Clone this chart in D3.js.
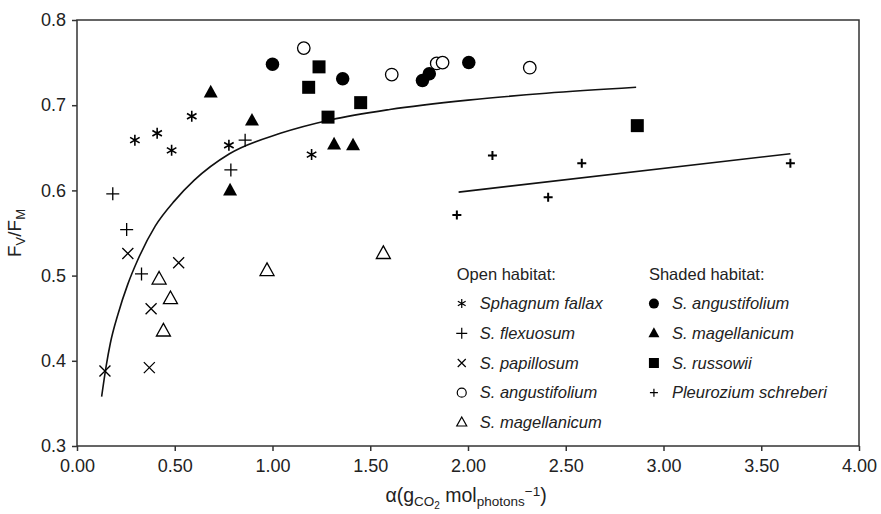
<!DOCTYPE html>
<html>
<head>
<meta charset="utf-8">
<script src="https://cdn.jsdelivr.net/npm/d3@7"></script>
<style>
  body { margin: 0; background: #fff; }
  svg { display: block; }
  svg text { font-family: "Liberation Sans", Arial, sans-serif; fill: #222; }
  .axis path, .axis line { stroke: #333; stroke-width: 1.5; }
  .axis text { font-size: 18px; }
  .legend text { font-size: 16.5px; }
</style>
</head>
<body>
<div class="chart"></div>
<script>
const width = 881;
const height = 514;

// open habitat
const fallax = [[0.296, 0.659], [0.41, 0.667], [0.484, 0.647], [0.587, 0.687], [0.777, 0.653], [1.20, 0.642]];
const flexuosum = [[0.183, 0.596], [0.254, 0.554], [0.33, 0.502], [0.787, 0.624], [0.86, 0.659]];
const papillosum = [[0.26, 0.526], [0.52, 0.515], [0.379, 0.461], [0.37, 0.392], [0.143, 0.388]];
const angustOpen = [[1.16, 0.767], [1.61, 0.736], [1.84, 0.749], [1.87, 0.750], [2.316, 0.744]];
const magellOpen = [[0.42, 0.496], [0.478, 0.473], [0.442, 0.435], [0.972, 0.506], [1.567, 0.526]];

// shaded habitat
const angustShade = [[1.0, 0.748], [1.359, 0.731], [1.767, 0.729], [1.802, 0.737], [2.004, 0.750]];
const magellShade = [[0.684, 0.715], [0.895, 0.682], [0.783, 0.600], [1.315, 0.654], [1.412, 0.653]];
const russowii = [[1.238, 0.745], [1.185, 0.721], [1.451, 0.703], [1.284, 0.686], [2.866, 0.676]];
const pleurozium = [[1.943, 0.571], [2.125, 0.641], [2.41, 0.592], [2.582, 0.632], [3.649, 0.632]];

// fitted lines
const sphagnumFit = [[0.126, 0.358], [0.15, 0.395], [0.17, 0.42], [0.21, 0.455], [0.26, 0.49], [0.31, 0.518],
  [0.40, 0.558], [0.50, 0.588], [0.60, 0.612], [0.78, 0.643], [1.04, 0.667], [1.3, 0.683], [1.6, 0.695],
  [2.0, 0.706], [2.4, 0.714], [2.86, 0.721]];
const pleuroziumFit = [[1.952, 0.598], [3.649, 0.643]];

const xTicks = [0, 0.5, 1, 1.5, 2, 2.5, 3, 3.5, 4];
const yTicks = [0.3, 0.4, 0.5, 0.6, 0.7, 0.8];

const margin = { top: 20, right: 22, bottom: 68, left: 77 };
const innerWidth = width - margin.left - margin.right;
const innerHeight = height - margin.top - margin.bottom;

const x = d3.scaleLinear().domain([0, 4]).range([0, innerWidth]);
const y = d3.scaleLinear().domain([0.3, 0.8]).range([innerHeight, 0]);

const svg = d3.select(".chart")
  .append("svg")
  .attr("width", width)
  .attr("height", height)
  .append("g")
  .attr("transform", `translate(${margin.left},${margin.top})`);

// frame
svg.append("rect")
  .attr("width", innerWidth)
  .attr("height", innerHeight)
  .attr("fill", "none")
  .attr("stroke", "#333")
  .attr("stroke-width", 1.5);

svg.append("g")
  .attr("class", "axis")
  .attr("transform", `translate(0,${innerHeight})`)
  .call(d3.axisBottom(x).tickValues(xTicks).tickFormat(d3.format(".2f")).tickSize(5).tickPadding(8))
  .call(g => g.select(".domain").remove());

svg.append("g")
  .attr("class", "axis")
  .call(d3.axisLeft(y).tickValues(yTicks).tickFormat(d3.format(".1f")).tickSize(5).tickPadding(6))
  .call(g => g.select(".domain").remove());

// axis titles
const yLabel = svg.append("text")
  .attr("transform", `translate(${-56},${innerHeight / 2}) rotate(-90)`)
  .attr("text-anchor", "middle")
  .style("font-size", "19px");
yLabel.append("tspan").text("F");
yLabel.append("tspan").attr("dy", 4).style("font-size", "13px").text("V");
yLabel.append("tspan").attr("dy", -4).text("/F");
yLabel.append("tspan").attr("dy", 4).style("font-size", "13px").text("M");

const xLabel = svg.append("text")
  .attr("x", x(1.99))
  .attr("y", innerHeight + 56)
  .attr("text-anchor", "middle")
  .style("font-size", "19.5px");
xLabel.append("tspan").text("\u03b1(g");
xLabel.append("tspan").attr("dy", 4).style("font-size", "13.5px").text("CO");
xLabel.append("tspan").attr("dy", 3).style("font-size", "10px").text("2");
xLabel.append("tspan").attr("dy", -7).text(" mol");
xLabel.append("tspan").attr("dy", 4).style("font-size", "13.5px").text("photons");
xLabel.append("tspan").attr("dy", -10).style("font-size", "13.5px").text("\u22121");
xLabel.append("tspan").attr("dy", 6).text(")");

// lines
const line = d3.line().x(d => x(d[0])).y(d => y(d[1])).curve(d3.curveMonotoneX);
[sphagnumFit, pleuroziumFit].forEach(l => {
  svg.append("path")
    .attr("d", line(l))
    .attr("fill", "none")
    .attr("stroke", "#111")
    .attr("stroke-width", 1.6);
});

// marker shapes
const asterisk = s => {
  const r = s / 2, c = r * Math.cos(Math.PI / 6), h = r * Math.sin(Math.PI / 6);
  return `M0,${-r}L0,${r}M${-c},${-h}L${c},${h}M${-c},${h}L${c},${-h}`;
};
const plus = s => `M${-s / 2},0L${s / 2},0M0,${-s / 2}L0,${s / 2}`;
const cross = s => `M${-s / 2},${-s / 2}L${s / 2},${s / 2}M${-s / 2},${s / 2}L${s / 2},${-s / 2}`;
const circle = s => d3.symbol(d3.symbolCircle, Math.PI * (s / 2) * (s / 2))();
const square = s => `M${-s / 2},${-s / 2}h${s}v${s}h${-s}z`;
const triangle = s => {
  const h = s * 0.9;
  return `M0,${-h * 0.6}L${s / 2},${h * 0.4}L${-s / 2},${h * 0.4}z`;
};

const series = [
  { data: fallax, shape: asterisk, size: 11, fill: "none", sw: 1.6, label: "Sphagnum fallax", lsize: 9 },
  { data: flexuosum, shape: plus, size: 13, fill: "none", sw: 1.3, label: "S. flexuosum", lsize: 11 },
  { data: papillosum, shape: cross, size: 11, fill: "none", sw: 1.3, label: "S. papillosum", lsize: 8 },
  { data: angustOpen, shape: circle, size: 12.5, fill: "#fff", sw: 1.3, label: "S. angustifolium", lsize: 9 },
  { data: magellOpen, shape: triangle, size: 14, fill: "#fff", sw: 1.3, label: "S. magellanicum", lsize: 10 },
  { data: angustShade, shape: circle, size: 13.5, fill: "#000", sw: 0, label: "S. angustifolium", lsize: 10 },
  { data: magellShade, shape: triangle, size: 14, fill: "#000", sw: 0, label: "S. magellanicum", lsize: 11 },
  { data: russowii, shape: square, size: 13, fill: "#000", sw: 0, label: "S. russowii", lsize: 10 },
  { data: pleurozium, shape: plus, size: 9, fill: "none", sw: 2, label: "Pleurozium schreberi", lsize: 8 }
];

series.forEach(s => {
  svg.selectAll(null)
    .data(s.data)
    .enter()
    .append("path")
    .attr("transform", d => `translate(${x(d[0])},${y(d[1])})`)
    .attr("d", s.shape(s.size))
    .attr("fill", s.fill)
    .attr("stroke", "#000")
    .attr("stroke-width", s.sw);
});

// legend, anchored on the symbol column
const legend = svg.append("g").attr("class", "legend");
const legendCols = [
  { title: "Open habitat:", x: x(1.968), items: series.slice(0, 5) },
  { title: "Shaded habitat:", x: x(2.951), items: series.slice(5) }
];
legendCols.forEach(col => {
  const g = legend.append("g").attr("transform", `translate(${col.x},${y(0.502)})`);
  g.append("text").attr("x", -5).attr("dy", "0.35em").text(col.title);
  col.items.forEach((s, i) => {
    const row = g.append("g").attr("transform", `translate(0,${(i + 1) * 29.7})`);
    row.append("path")
      .attr("d", s.shape(s.lsize))
      .attr("fill", s.fill)
      .attr("stroke", "#000")
      .attr("stroke-width", s.sw ? Math.min(s.sw, 1.2) : 0);
    row.append("text")
      .attr("x", 18)
      .attr("dy", "0.35em")
      .style("font-style", "italic")
      .text(s.label);
  });
});
</script>
</body>
</html>
